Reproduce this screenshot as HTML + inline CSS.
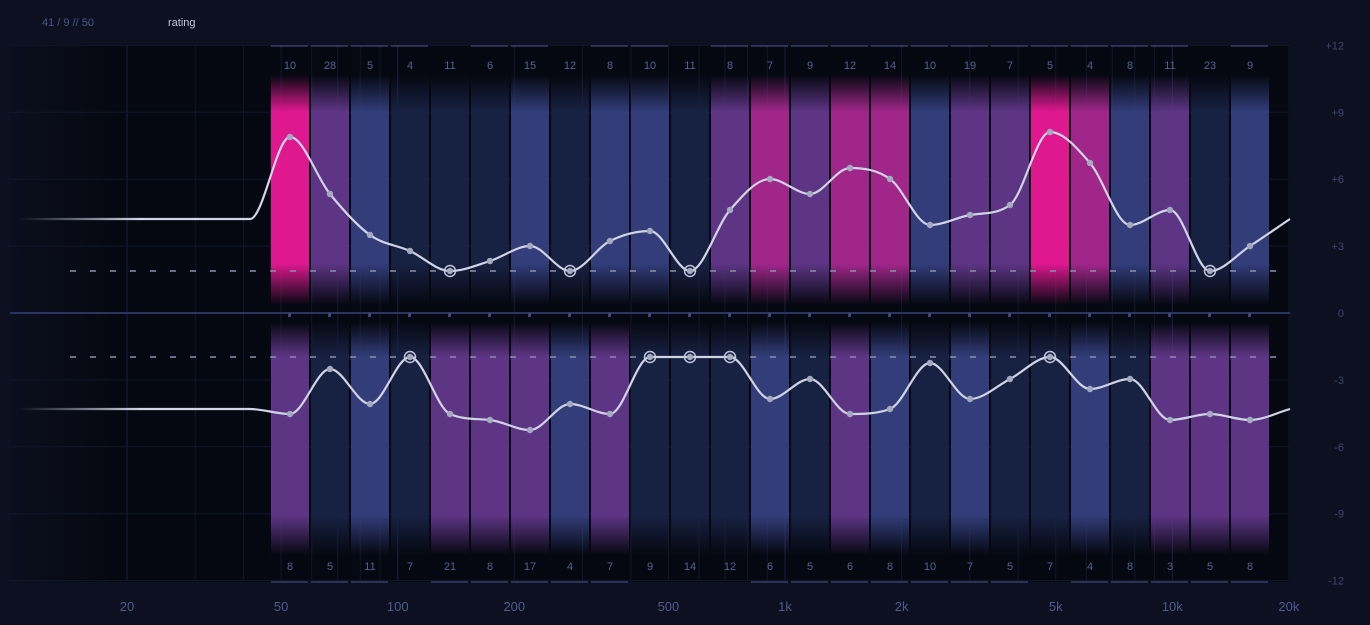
<!DOCTYPE html>
<html><head><meta charset="utf-8"><style>
html,body{margin:0;padding:0;background:#0c1020;width:1370px;height:625px;overflow:hidden;font-family:"Liberation Sans",sans-serif}
svg{display:block}
</style></head><body>
<svg id="s" width="1370" height="625" xmlns="http://www.w3.org/2000/svg">
<defs>
<linearGradient id="fadeL" gradientUnits="userSpaceOnUse" x1="20" x2="140" y1="0" y2="0">
<stop offset="0" stop-color="#d0d4e4" stop-opacity="0"/><stop offset="1" stop-color="#d0d4e4" stop-opacity="1"/></linearGradient>
<linearGradient id="panel" x1="0" x2="1"><stop offset="0" stop-color="#0b0f1d"/><stop offset="0.08" stop-color="#060811"/><stop offset="1" stop-color="#060811"/></linearGradient>
</defs>
<rect x="0" y="0" width="1370" height="625" rx="10" fill="#0c1020"/>
<rect x="10" y="45" width="1280" height="537" fill="url(#panel)"/>
<text x="42" y="26" font-size="11" fill="#4a5685">41 / 9 // 50</text>
<text x="168" y="26" font-size="11" fill="#c4c9da">rating</text>
<g id="grid"></g>
<g id="bars"></g>
<g id="over"></g>
</svg>
<script>
(function(){
const NS="http://www.w3.org/2000/svg";
function el(t,a,p,txt){const e=document.createElementNS(NS,t);for(const k in a)e.setAttribute(k,a[k]);if(txt!==undefined)e.textContent=txt;p.appendChild(e);return e;}
const S=document.getElementById('s'),G=document.getElementById('grid'),B=document.getElementById('bars'),O=document.getElementById('over'),D=S.querySelector('defs');
const X=f=>127+387.3*Math.log10(f/20);
[20,30,40,50,60,70,80,90,100,200,300,400,500,600,700,800,900,1000,2000,3000,4000,5000,6000,7000,8000,9000,10000,20000].forEach(f=>{
 const major=[20,100,1000,10000].includes(f);
 el('line',{x1:X(f),x2:X(f),y1:45,y2:580,stroke:major?'#1a2140':'#111729','stroke-width':1},G);});
const Y=v=>313-v*22.3;
[12,9,6,3,-3,-6,-9,-12].forEach(v=>el('line',{x1:10,x2:1290,y1:Y(v),y2:Y(v),stroke:'#111729'},G));
[[12,'+12'],[9,'+9'],[6,'+6'],[3,'+3'],[0,'0'],[-3,'-3'],[-6,'-6'],[-9,'-9'],[-12,'-12']].forEach(([v,t])=>el('text',{x:1344,y:Y(v)+4,'font-size':11,fill:'#3d4670','text-anchor':'end'},O,t));
[[20,'20'],[50,'50'],[100,'100'],[200,'200'],[500,'500'],[1000,'1k'],[2000,'2k'],[5000,'5k'],[10000,'10k'],[20000,'20k']].forEach(([f,t])=>el('text',{x:X(f),y:611,'font-size':13,fill:'#4f5a8c','text-anchor':'middle'},O,t));
const C={p:'#df1890',m:'#a0268a',u:'#5e3585',b:'#323d7a',n:'#172142'};
const topC='p u b n n n b n b b n u m u m m b u u p m b u n b'.split(' ');
const botC='u n b n u u u b u n n n b n u b n b n n b n u u u'.split(' ');
Object.keys(C).forEach(k=>{
 ['t','b'].forEach(w=>{
  const g=el('linearGradient',{id:w+k,x1:0,x2:0,y1:0,y2:1},D);
  const s=w=='t'?[[0,0],[0.16,1],[0.82,1],[1,0]]:[[0,0],[0.15,1],[0.83,1],[1,0]];
  s.forEach(([o,a])=>el('stop',{offset:o,'stop-color':C[k],'stop-opacity':a},g));
 });
});
for(let i=0;i<25;i++){
 const x=270+40*i;
 el('rect',{x:x+1,y:75,width:38,height:230,fill:'url(#t'+topC[i]+')'},B);
 el('rect',{x:x+1,y:322,width:38,height:233,fill:'url(#b'+botC[i]+')'},B);
}
el('line',{x1:10,x2:1290,y1:313,y2:313,stroke:'#2a3460','stroke-width':2},O);
for(let i=0;i<25;i++)el('rect',{x:288+40*i,y:313,width:3,height:4,fill:'#3d4678'},O);
const tl=[10,28,5,4,11,6,15,12,8,10,11,8,7,9,12,14,10,19,7,5,4,8,11,23,9];
const bl=[8,5,11,7,21,8,17,4,7,9,14,12,6,5,6,8,10,7,5,7,4,8,3,5,8];
const tLine=[1,2,3,4,6,7,9,10,12,13,14,15,16,17,18,19,20,21,22,23,25];
const bLine=[1,2,3,5,6,7,8,9,13,14,15,16,17,18,19,21,22,23,24,25];
for(let i=0;i<25;i++){
 el('text',{x:290+40*i,y:69,'font-size':11,fill:'#56608f','text-anchor':'middle'},O,tl[i]);
 el('text',{x:290+40*i,y:570,'font-size':11,fill:'#56608f','text-anchor':'middle'},O,bl[i]);
}
tLine.forEach(c=>el('line',{x1:271+40*(c-1),x2:308+40*(c-1),y1:46,y2:46,stroke:'#4a5590'},O));
bLine.forEach(c=>el('line',{x1:271+40*(c-1),x2:308+40*(c-1),y1:582,y2:582,stroke:'#4a5590'},O));
[271,357].forEach(y=>el('line',{x1:70,x2:1290,y1:y,y2:y,stroke:'#8a90aa','stroke-width':1.5,'stroke-dasharray':'6 14'},O));
function mono(pts){
 const n=pts.length,dx=[],dy=[],m=[],t=[];
 for(let i=0;i<n-1;i++){dx[i]=pts[i+1][0]-pts[i][0];dy[i]=pts[i+1][1]-pts[i][1];m[i]=dy[i]/dx[i];}
 t[0]=m[0];t[n-1]=m[n-2];
 for(let i=1;i<n-1;i++){t[i]=(m[i-1]*m[i]<=0)?0:(m[i-1]+m[i])/2;}
 for(let i=0;i<n-1;i++){if(m[i]===0){t[i]=0;t[i+1]=0;continue;}
  const a=t[i]/m[i],b=t[i+1]/m[i],h=a*a+b*b;if(h>9){const s=3/Math.sqrt(h);t[i]=s*a*m[i];t[i+1]=s*b*m[i];}}
 let d='M'+pts[0][0]+','+pts[0][1];
 for(let i=0;i<n-1;i++){const h=dx[i]/3;d+=' C'+(pts[i][0]+h)+','+(pts[i][1]+t[i]*h)+' '+(pts[i+1][0]-h)+','+(pts[i+1][1]-t[i+1]*h)+' '+pts[i+1][0]+','+pts[i+1][1];}
 return d;}
const ty=[137,194,235,251,271,261,246,271,241,231,271,210,179,194,168,179,225,215,205,132,163,225,210,271,246];
const by=[414,369,404,357,414,420,430,404,414,357,357,357,399,379,414,409,363,399,379,357,389,379,420,414,420];
function draw(ys,flat,end,rings){
 const pts=[[10,flat],[250,flat]];ys.forEach((y,i)=>pts.push([290+40*i,y]));pts.push([1290,end]);
 el('path',{d:mono(pts),fill:'none',stroke:'url(#fadeL)','stroke-width':2.2},O);
 ys.forEach((y,i)=>{const x=290+40*i;
  if(y===rings){el('circle',{cx:x,cy:y,r:5.5,fill:'none',stroke:'#c0c5d8','stroke-width':1.5},O);el('circle',{cx:x,cy:y,r:3.2,fill:'#a4aac0'},O);}
  else el('circle',{cx:x,cy:y,r:3.2,fill:'#a4aac0'},O);});
}
draw(ty,219,219,271);
draw(by,409,409,357);
})();
</script>
</body></html>
